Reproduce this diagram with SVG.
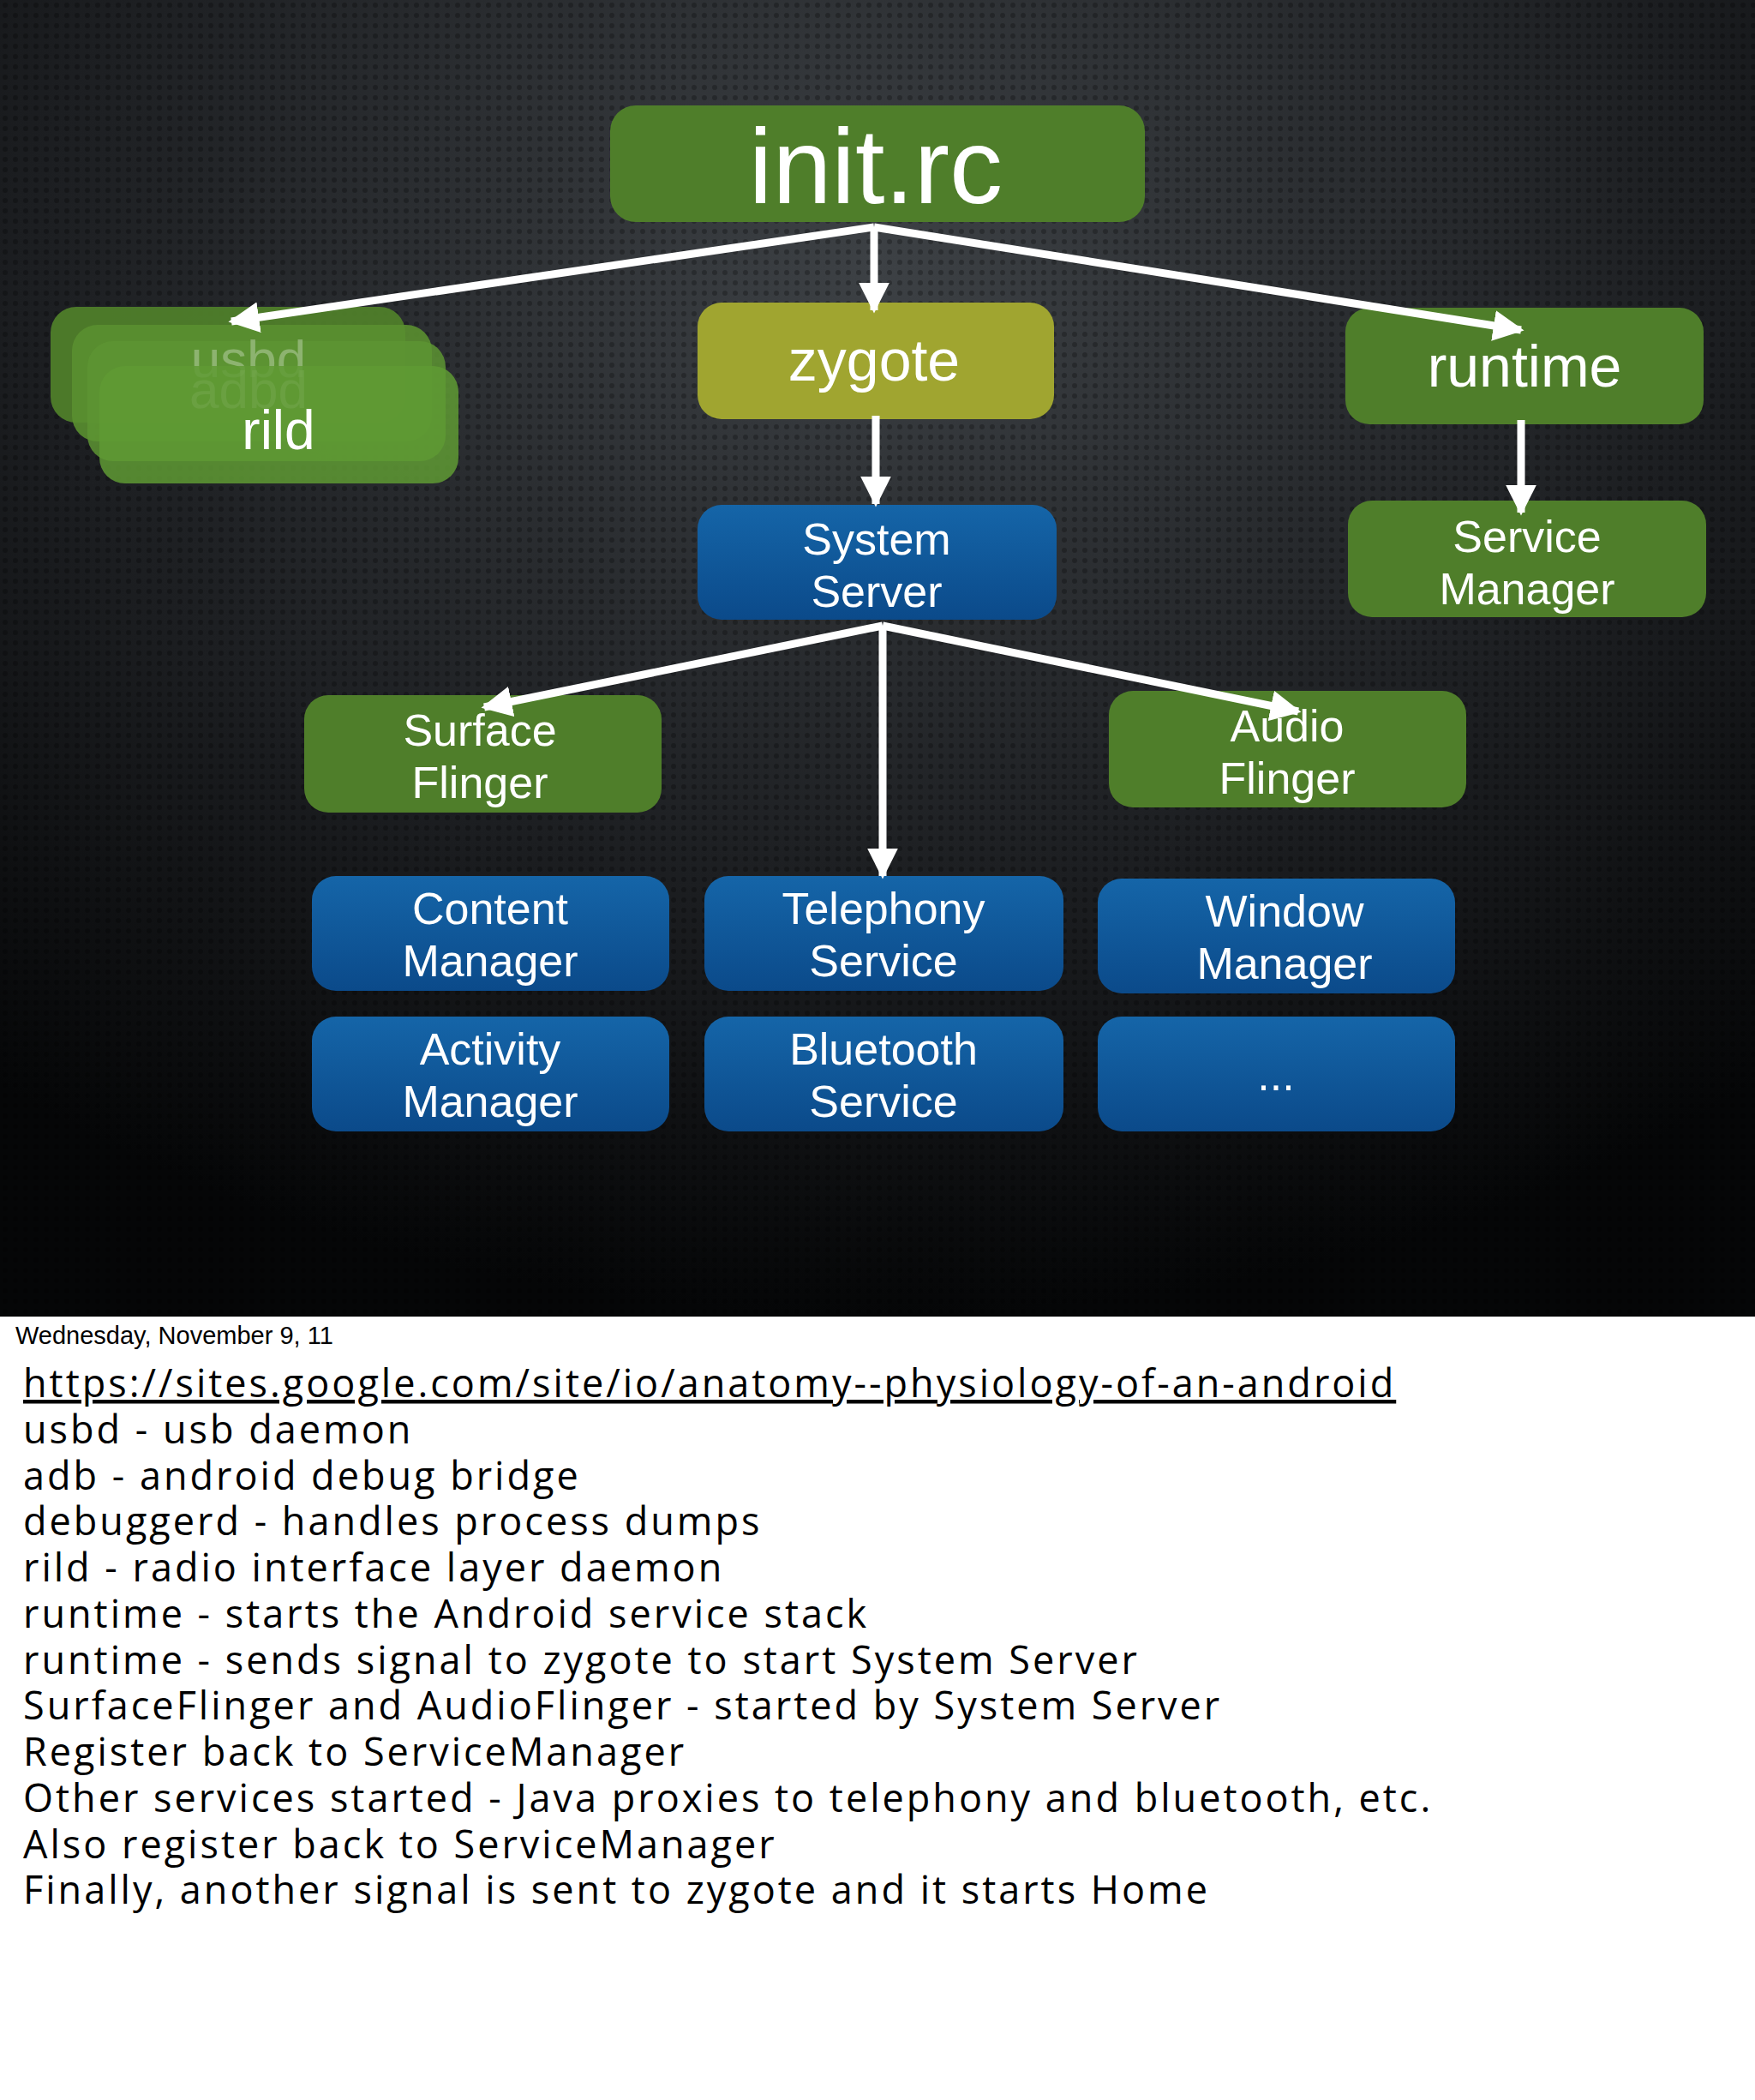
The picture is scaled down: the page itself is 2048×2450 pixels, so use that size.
<svg xmlns="http://www.w3.org/2000/svg" width="2048" height="2450" viewBox="0 0 2048 2450">
<defs>
<radialGradient id="bg" cx="50%" cy="20%" r="80%">
<stop offset="0" stop-color="#3d4145"/><stop offset="0.6" stop-color="#1c1e21"/><stop offset="1" stop-color="#050607"/>
</radialGradient>
<pattern id="dots" width="12" height="12" patternUnits="userSpaceOnUse">
<circle cx="6" cy="6" r="3" fill="#000" opacity="0.25"/>
</pattern>
<linearGradient id="blue" x1="0" y1="0" x2="0" y2="1"><stop offset="0" stop-color="#1565a8"/><stop offset="1" stop-color="#0b4a8a"/></linearGradient>
<marker id="ah" viewBox="0 0 10 10" refX="9" refY="5" markerWidth="4" markerHeight="4" orient="auto" markerUnits="strokeWidth">
<path d="M0,0 L10,5 L0,10 z" fill="#fff"/>
</marker>
</defs>
<style>
.g{fill:#4f7e2a}
.y{fill:#a0a530}
.b{fill:url(#blue)}
.t{font-family:"Liberation Sans",Arial,sans-serif;fill:#fff;text-anchor:middle}
.n{font-size:52px}
.c{stroke:#fff;stroke-width:9;fill:none;marker-end:url(#ah)}
.note{font-family:"Open Sans","Lato",sans-serif;font-size:45px;letter-spacing:3px;fill:#000}
</style>
<rect width="2048" height="1536" fill="url(#bg)"/>
<rect width="2048" height="1536" fill="url(#dots)"/>
<rect y="1536" width="2048" height="914" fill="#fff"/>

<g id="stack">
<rect x="59" y="358" width="414" height="135" rx="30" fill="#4f7e2a" opacity="0.95"/>
<rect x="84" y="379" width="420" height="136" rx="30" fill="#5a8f30" opacity="0.9"/>
<rect x="102" y="398" width="418" height="140" rx="30" fill="#5d9433" opacity="0.85"/>
<text x="290" y="440" class="t" font-size="62" opacity="0.3">usbd</text>
<text x="290" y="476" class="t" font-size="62" opacity="0.45">adbd</text>
<rect x="116" y="427" width="419" height="137" rx="30" fill="#5f9a34" opacity="0.85"/>
<text x="325" y="524" class="t" font-size="64">rild</text>
</g>
<g id="init"><rect x="712" y="123" width="624" height="136" rx="30" class="g"/><text x="1022" y="237" class="t" font-size="124">init.rc</text></g>
<g id="zygote"><rect x="814" y="353" width="416" height="136" rx="28" class="y"/><text x="1020" y="444" class="t" font-size="68">zygote</text></g>
<g id="runtime"><rect x="1570" y="359" width="418" height="136" rx="28" class="g"/><text x="1779" y="451" class="t" font-size="68">runtime</text></g>
<g id="servicemanager"><rect x="1573" y="584" width="418" height="136" rx="28" class="g"/><text x="1782" y="644" class="t n">Service</text><text x="1782" y="705" class="t n">Manager</text></g>
<g id="systemserver"><rect x="814" y="589" width="419" height="134" rx="28" class="b"/><text x="1023" y="647" class="t n">System</text><text x="1023" y="708" class="t n">Server</text></g>
<g id="surface"><rect x="355" y="811" width="417" height="137" rx="28" class="g"/><text x="560" y="870" class="t n">Surface</text><text x="560" y="931" class="t n">Flinger</text></g>
<g id="audio"><rect x="1294" y="806" width="417" height="136" rx="28" class="g"/><text x="1502" y="865" class="t n">Audio</text><text x="1502" y="926" class="t n">Flinger</text></g>
<g id="content"><rect x="364" y="1022" width="417" height="134" rx="28" class="b"/><text x="572" y="1078" class="t n">Content</text><text x="572" y="1139" class="t n">Manager</text></g>
<g id="telephony"><rect x="822" y="1022" width="419" height="134" rx="28" class="b"/><text x="1031" y="1078" class="t n">Telephony</text><text x="1031" y="1139" class="t n">Service</text></g>
<g id="window"><rect x="1281" y="1025" width="417" height="134" rx="28" class="b"/><text x="1499" y="1081" class="t n">Window</text><text x="1499" y="1142" class="t n">Manager</text></g>
<g id="activity"><rect x="364" y="1186" width="417" height="134" rx="28" class="b"/><text x="572" y="1242" class="t n">Activity</text><text x="572" y="1303" class="t n">Manager</text></g>
<g id="bluetooth"><rect x="822" y="1186" width="419" height="134" rx="28" class="b"/><text x="1031" y="1242" class="t n">Bluetooth</text><text x="1031" y="1303" class="t n">Service</text></g>
<g id="more"><rect x="1281" y="1186" width="417" height="134" rx="28" class="b"/><text x="1489" y="1272" class="t n">...</text></g>

<g id="connectors">
<path class="c" d="M1020,265 L270,375"/>
<path class="c" d="M1020,265 L1020,362"/>
<path class="c" d="M1020,265 L1775,385"/>
<path class="c" d="M1022,485 L1022,588"/>
<path class="c" d="M1775,490 L1775,598"/>
<path class="c" d="M1030,730 L565,825"/>
<path class="c" d="M1030,730 L1030,1022"/>
<path class="c" d="M1030,730 L1515,830"/>
</g>

<text x="18" y="1568" font-family="Liberation Sans,Arial,sans-serif" font-size="29" fill="#000">Wednesday, November 9, 11</text>
<g class="note">
<text x="27" y="1630" text-decoration="underline">https://sites.google.com/site/io/anatomy--physiology-of-an-android</text>
<text x="27" y="1684">usbd - usb daemon</text>
<text x="27" y="1738">adb - android debug bridge</text>
<text x="27" y="1791">debuggerd - handles process dumps</text>
<text x="27" y="1845">rild - radio interface layer daemon</text>
<text x="27" y="1899">runtime - starts the Android service stack</text>
<text x="27" y="1953">runtime - sends signal to zygote to start System Server</text>
<text x="27" y="2006">SurfaceFlinger and AudioFlinger - started by System Server</text>
<text x="27" y="2060">Register back to ServiceManager</text>
<text x="27" y="2114">Other services started - Java proxies to telephony and bluetooth, etc.</text>
<text x="27" y="2168">Also register back to ServiceManager</text>
<text x="27" y="2221">Finally, another signal is sent to zygote and it starts Home</text>
</g>
</svg>
